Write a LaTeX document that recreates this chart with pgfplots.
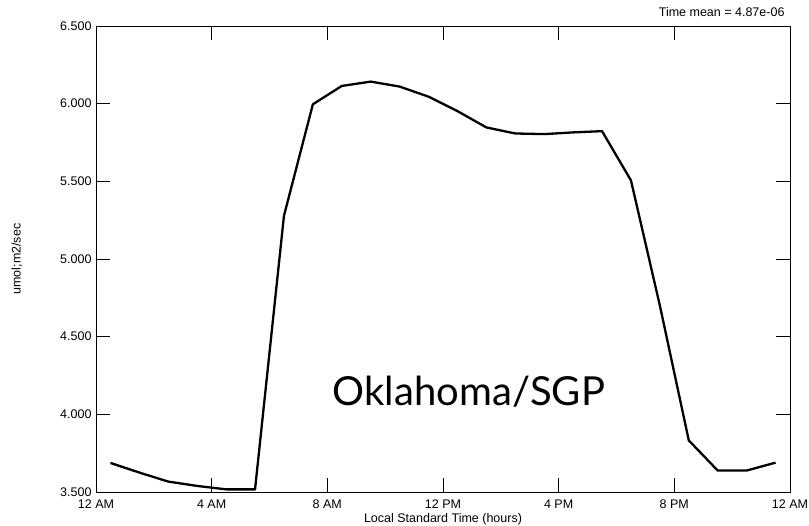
\documentclass[border=0pt]{standalone}
\usepackage{fontspec}
\setmainfont{Liberation Sans}
\newfontfamily\bigfont{Lato}
\usepackage{pgfplots}
\pgfplotsset{compat=1.18}
\begin{document}
\begin{tikzpicture}[x=1pt,y=1pt]
\path[use as bounding box] (-96,-34) rectangle (713,492);
\begin{axis}[
  at={(0,0)}, anchor=south west,
  width=694pt, height=466pt, scale only axis,
  xmin=0, xmax=24, ymin=3.5, ymax=6.5,
  xtick={0,4,8,12,16,20,24},
  xticklabels={12 AM,4 AM,8 AM,12 PM,4 PM,8 PM,12 AM},
  ytick={3.5,4,4.5,5,5.5,6,6.5},
  yticklabels={3.500,4.000,4.500,5.000,5.500,6.000,6.500},
  tick align=inside, major tick length=14pt,
  tick style={black, line width=0.8pt},
  axis line style={black, line width=0.8pt},
  ticklabel style={font=\fontsize{12.5}{12.5}\selectfont},
  xticklabel style={yshift=-4pt},
  yticklabel style={xshift=-1pt},
  xlabel={Local Standard Time (hours)},
  ylabel={umol;m2/sec},
  label style={font=\fontsize{12.5}{12.5}\selectfont},
  xlabel style={yshift=2pt},
  ylabel style={yshift=31pt},
  clip=false,
]
\addplot[black, line width=2.3pt, line join=round] coordinates {
(0.5,3.687) (1.5,3.625) (2.5,3.567) (3.5,3.539) (4.5,3.517) (5.5,3.517)
(6.5,5.278) (7.5,5.996) (8.5,6.114) (9.5,6.142) (10.5,6.110) (11.5,6.045)
(12.5,5.952) (13.5,5.847) (14.5,5.808) (15.5,5.804) (16.5,5.815) (17.5,5.823)
(18.5,5.506) (19.5,4.700) (20.5,3.832) (21.5,3.638) (22.5,3.638) (23.5,3.689)
};
\node[anchor=base, font=\bigfont\fontsize{40}{40}\selectfont] at (axis cs:12.9,4.06) {Oklahoma/SGP};
\end{axis}
\node[anchor=base east, font=\fontsize{12.5}{12.5}\selectfont] at (692,475) {Time mean = 4.87e-06};
\end{tikzpicture}
\end{document}
